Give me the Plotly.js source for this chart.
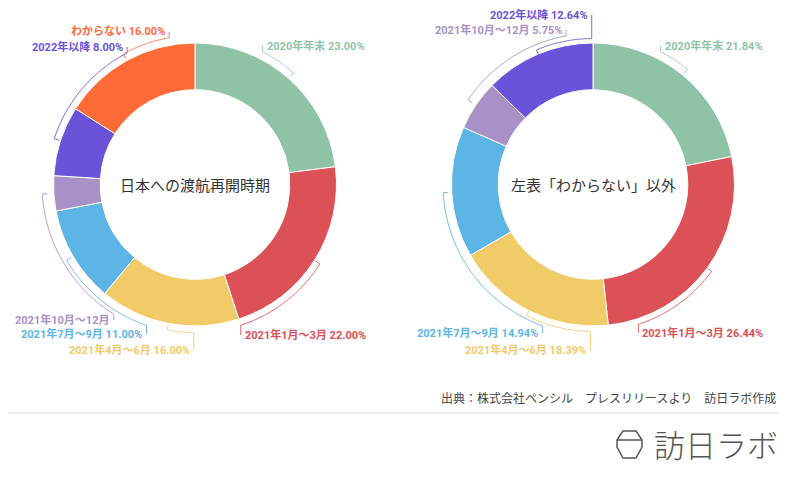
<!DOCTYPE html>
<html>
<head>
<meta charset="utf-8">
<script src="https://cdn.plot.ly/plotly-3.0.1.min.js"></script>
<style>html,body{margin:0;padding:0;background:#fff;}#chart{width:800px;height:485px;}</style>
</head>
<body>
<div id="chart"></div>
<script>
// ---- data ----
const categories = ['2020年年末','2021年1月～3月','2021年4月～6月','2021年7月～9月','2021年10月～12月','2022年以降','わからない'];
const leftValues = [23.00, 22.00, 16.00, 11.00, 4.00, 8.00, 16.00];
const rightCategories = ['2020年年末','2021年1月～3月','2021年4月～6月','2021年7月～9月','2021年10月～12月','2022年以降'];
const rightValues = [21.84, 26.44, 18.39, 14.94, 5.75, 12.64];
const leftTitle = '日本への渡航再開時期';
const rightTitle = '左表「わからない」以外';
const sourceText = '出典：株式会社ペンシル　プレスリリースより　訪日ラボ作成';
const logoText = '訪日ラボ';

// ---- styles / layout helpers ----
const colors = ['#8fc3a6','#dc5155','#f0cb68','#5cb5e5','#a891c7','#6a52d9','#fe6b37'];
const W = 800, H = 485;
const px = x => x / W;
const py = y => 1 - y / H;

// label placement config per slice: end angle of bracket, bracket radius, label y, anchor, show pct
const leftCfg = [
  {end: 27,    R: 149, y: 46,  anchor: 'left',  pct: true},
  {end: 162,   R: 148, y: 335, anchor: 'left',  pct: true},
  {end: 180.5, R: 148, y: 350, anchor: 'right', pct: true},
  {end: 199,   R: 149, y: 334, anchor: 'right', pct: true},
  {end: 212,   R: 153, y: 320, anchor: 'right', pct: false},
  {end: 332.7, R: 148, y: 47,  anchor: 'right', pct: true},
  {end: 350,   R: 149, y: 32,  anchor: 'right', pct: true}
];
const rightCfg = [
  {end: 27,    R: 149, y: 46,  anchor: 'left',  pct: true},
  {end: 162,   R: 147, y: 333, anchor: 'left',  pct: true},
  {end: 181,   R: 147, y: 350, anchor: 'right', pct: true},
  {end: 199.7, R: 150, y: 333, anchor: 'right', pct: true},
  {end: 349.7, R: 151, y: 30,  anchor: 'right', pct: true},
  {end: 359.5, R: 146, y: 15,  anchor: 'right', pct: true}
];

const pies = [
  {cx: 195, cy: 184.5, r: 141.5, labels: categories, values: leftValues, cfg: leftCfg, title: leftTitle},
  {cx: 593, cy: 184.5, r: 141.5, labels: rightCategories, values: rightValues, cfg: rightCfg, title: rightTitle}
];

const traces = [];
const shapes = [];
const annotations = [];
const labelFont = 'Roboto, "Noto Sans CJK JP", sans-serif';

function pt(p, a, R) {
  const rad = a * Math.PI / 180;
  return [p.cx + R * Math.sin(rad), p.cy - R * Math.cos(rad)];
}

pies.forEach(p => {
  traces.push({
    type: 'pie',
    labels: p.labels,
    values: p.values,
    hole: 0.67,
    sort: false,
    direction: 'clockwise',
    rotation: 0,
    textinfo: 'none',
    hoverinfo: 'label+percent',
    marker: {colors: colors.slice(0, p.values.length), line: {color: '#ffffff', width: 1}},
    domain: {x: [px(p.cx - p.r), px(p.cx + p.r)], y: [py(p.cy + p.r), py(p.cy - p.r)]},
    showlegend: false
  });
  annotations.push({
    xref: 'paper', yref: 'paper', x: px(p.cx), y: py(p.cy),
    text: p.title, showarrow: false, xanchor: 'center', yanchor: 'middle',
    font: {family: '"Noto Sans CJK JP", sans-serif', size: 15, color: '#333333'}
  });
  const total = p.values.reduce((s, v) => s + v, 0);
  let cum = 0;
  p.values.forEach((v, i) => {
    const a0 = cum / total * 360;
    cum += v;
    const a1 = cum / total * 360;
    const mid = (a0 + a1) / 2;
    const c = p.cfg[i];
    const col = colors[i];
    // bracket path
    const h = pt(p, mid, c.R - 5);
    let path = `M ${px(h[0])} ${py(h[1])}`;
    const n = 40;
    for (let k = 0; k <= n; k++) {
      const a = mid + (c.end - mid) * k / n;
      const q = pt(p, a, c.R);
      path += ` L ${px(q[0])} ${py(q[1])}`;
    }
    const e = pt(p, c.end, c.R);
    path += ` L ${px(e[0])} ${py(c.y)}`;
    shapes.push({type: 'path', xref: 'paper', yref: 'paper', path: path,
      line: {color: col, width: 1}, opacity: 0.85});
    const pctStr = (v / total * 100).toFixed(2) + '%';
    const txt = c.pct ? p.labels[i] + ' ' + pctStr : p.labels[i];
    annotations.push({
      xref: 'paper', yref: 'paper',
      x: px(e[0] + (c.anchor === 'left' ? 2 : -2)), y: py(c.y),
      text: txt, showarrow: false, xanchor: c.anchor, yanchor: 'middle',
      font: {family: labelFont, size: 11, color: col, weight: 700}
    });
  });
});

// footer
annotations.push({
  xref: 'paper', yref: 'paper', x: px(778), y: py(397), text: sourceText,
  showarrow: false, xanchor: 'right', yanchor: 'middle',
  font: {family: '"Noto Sans CJK JP", sans-serif', size: 12, color: '#444444'}
});
shapes.push({type: 'line', xref: 'paper', yref: 'paper', x0: px(8), x1: px(778), y0: py(413), y1: py(413),
  line: {color: '#e4e4e4', width: 1.5}});
annotations.push({
  xref: 'paper', yref: 'paper', x: px(780), y: py(443), text: logoText,
  showarrow: false, xanchor: 'right', yanchor: 'middle',
  font: {family: '"Noto Sans CJK JP", sans-serif', size: 31, color: '#555555', weight: 300}
});
// logo icon
const icon = [[623,431],[636,431],[642,440],[642,447],[636,458],[623,458],[617,447],[617,440]];
let ip = 'M ' + icon.map(q => `${px(q[0])} ${py(q[1])}`).join(' L ') + ' Z';
shapes.push({type: 'path', xref: 'paper', yref: 'paper', path: ip, line: {color: '#555555', width: 1.5}});
shapes.push({type: 'line', xref: 'paper', yref: 'paper', x0: px(617), x1: px(642), y0: py(440), y1: py(440),
  line: {color: '#555555', width: 1.5}});

Plotly.newPlot('chart', traces, {
  width: W, height: H,
  margin: {l: 0, r: 0, t: 0, b: 0},
  paper_bgcolor: '#ffffff', plot_bgcolor: '#ffffff',
  shapes: shapes, annotations: annotations
}, {displayModeBar: false, staticPlot: true});
</script>
</body>
</html>
